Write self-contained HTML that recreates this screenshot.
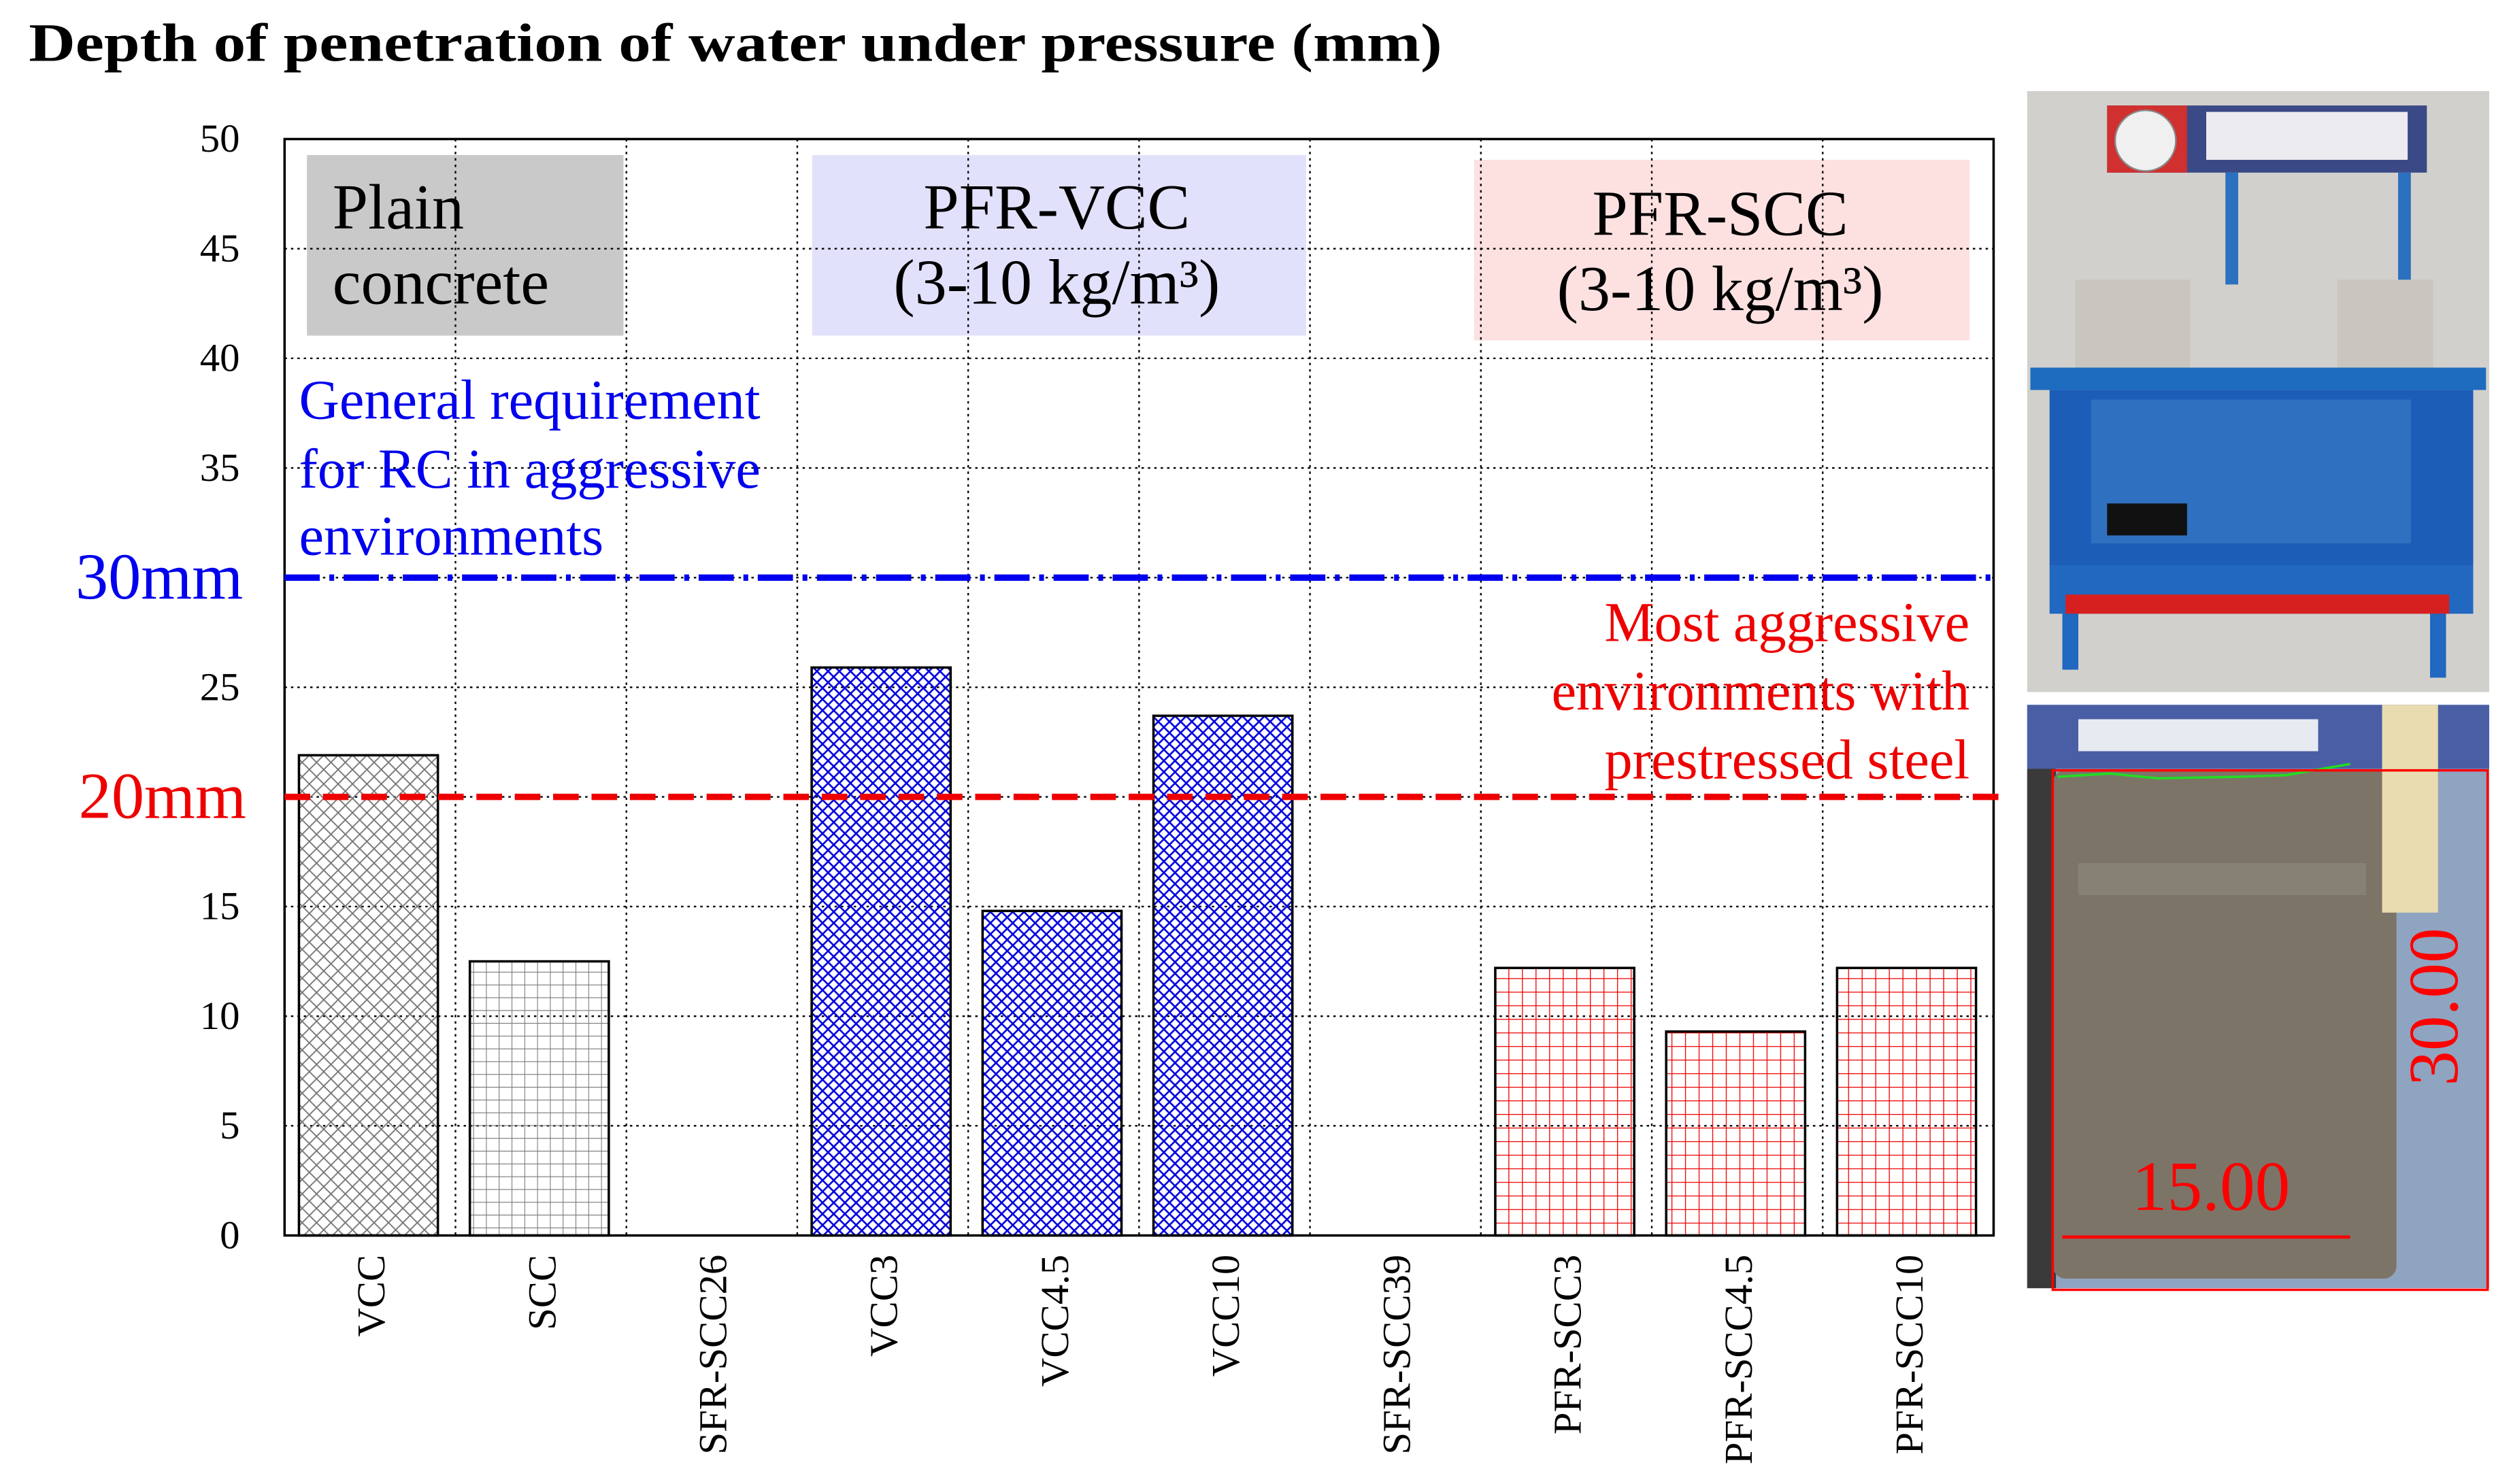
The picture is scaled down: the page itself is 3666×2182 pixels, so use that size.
<!DOCTYPE html>
<html><head><meta charset="utf-8"><style>
html,body{margin:0;padding:0;background:#fff;}
svg{display:block;}
text{font-family:"Liberation Serif",serif;}
</style></head><body>
<svg id="chart" width="3666" height="2182" viewBox="0 0 1560 928.5" xmlns="http://www.w3.org/2000/svg">
<defs>
<pattern id="pGrayX" width="9" height="9" patternUnits="userSpaceOnUse"><path d="M0 0L9 9M9 0L0 9" stroke="#777" stroke-width="0.8"/></pattern>
<pattern id="pGrayG" width="8" height="8" patternUnits="userSpaceOnUse"><path d="M0 0H8M0 0V8" stroke="#777" stroke-width="0.9"/></pattern>
<pattern id="pBlueX" width="7" height="7" patternUnits="userSpaceOnUse"><path d="M0 0L7 7M7 0L0 7" stroke="#0000dd" stroke-width="1.1"/></pattern>
<pattern id="pRedG" width="8.5" height="8.5" patternUnits="userSpaceOnUse"><path d="M0 0H8.5M0 0V8.5" stroke="#ee0000" stroke-width="1.1"/></pattern>
</defs>
<text x="18" y="38" font-size="34" font-weight="bold" textLength="884" lengthAdjust="spacingAndGlyphs">Depth of penetration of water under pressure (mm)</text>
<g id="boxes">
<rect x="192" y="97" width="198" height="113" fill="#c9c9c9"/>
<rect x="508" y="97" width="309" height="113" fill="#e1e1fb"/>
<rect x="922" y="100" width="310" height="113" fill="#fde1e1"/>
</g>
<g id="grid"></g>
<g id="bars"></g>
<rect x="178" y="87" width="1069" height="686" fill="none" stroke="#000" stroke-width="1.5"/>
<g id="yticks"></g>
<g id="xlabels"></g>
<text x="208" y="143" font-size="40">Plain</text>
<text x="208" y="190" font-size="40">concrete</text>
<text x="661" y="143" font-size="40" text-anchor="middle">PFR-VCC</text>
<text x="661" y="190" font-size="40" text-anchor="middle">(3-10 kg/m³)</text>
<text x="1076" y="147" font-size="40" text-anchor="middle">PFR-SCC</text>
<text x="1076" y="194" font-size="40" text-anchor="middle">(3-10 kg/m³)</text>
<g id="annotations" fill="#0000ee" font-size="35">
<text x="187" y="262">General requirement</text>
<text x="187" y="305">for RC in aggressive</text>
<text x="187" y="347">environments</text>
</g>
<g fill="#ee0000" font-size="35" text-anchor="end">
<text x="1232" y="401">Most aggressive</text>
<text x="1232" y="444">environments with</text>
<text x="1232" y="487">prestressed steel</text>
</g>
<g id="thresholds"></g>
<g id="photos">
<g>
<rect x="1268" y="57" width="289" height="376" fill="#d2d0cc"/>
<rect x="1318" y="66" width="200" height="42" fill="#3a4a86"/>
<rect x="1318" y="66" width="50" height="42" fill="#d03030"/>
<circle cx="1342" cy="88" r="19" fill="#f0f0f0" stroke="#888"/>
<rect x="1380" y="70" width="126" height="30" fill="#ecebef"/>
<rect x="1392" y="108" width="8" height="70" fill="#2c70c0"/>
<rect x="1500" y="108" width="8" height="70" fill="#2c70c0"/>
<rect x="1298" y="175" width="72" height="60" fill="#c8c6bf"/>
<rect x="1462" y="175" width="60" height="60" fill="#c8c6bf"/>
<rect x="1270" y="230" width="285" height="14" fill="#1e6cc0"/>
<rect x="1282" y="244" width="265" height="110" fill="#1c5db8"/>
<rect x="1308" y="250" width="200" height="90" fill="#3070c0"/>
<rect x="1318" y="315" width="50" height="20" fill="#111"/>
<rect x="1282" y="354" width="265" height="30" fill="#2068c0"/>
<rect x="1292" y="372" width="240" height="12" fill="#d62020"/>
<rect x="1290" y="384" width="10" height="35" fill="#2068c0"/>
<rect x="1520" y="384" width="10" height="40" fill="#2068c0"/>
</g>
<g>
<rect x="1268" y="441" width="289" height="365" fill="#8fa4c0"/>
<rect x="1268" y="441" width="289" height="40" fill="#4a5ea6"/>
<rect x="1300" y="450" width="150" height="20" fill="#e8eaf2"/>
<rect x="1268" y="481" width="18" height="325" fill="#3a3a3a"/>
<rect x="1284" y="482" width="215" height="318" rx="8" fill="#7d7468"/>
<rect x="1300" y="540" width="180" height="20" fill="#8a8478" opacity="0.8"/>
<rect x="1490" y="441" width="35" height="130" fill="#e8dcb0"/>
<polyline points="1287,486 1320,484 1350,487 1400,486 1430,485 1470,478" fill="none" stroke="#22dd22" stroke-width="1.5"/>
<rect x="1284" y="482" width="272" height="325" fill="none" stroke="#ff0000" stroke-width="1.5"/>
<line x1="1290" y1="774" x2="1470" y2="774" stroke="#ff0000" stroke-width="2"/>
<text x="1383" y="757" font-family="Liberation Sans,sans-serif" font-size="44" fill="#ff0000" text-anchor="middle">15.00</text>
<text transform="translate(1537,630) rotate(-90)" font-family="Liberation Sans,sans-serif" font-size="44" fill="#ff0000" text-anchor="middle">30.00</text>
</g>
</g>
</svg>
<script>
const categories=["VCC","SCC","SFR-SCC26","VCC3","VCC4.5","VCC10","SFR-SCC39","PFR-SCC3","PFR-SCC4.5","PFR-SCC10"];
const values=[21.9,12.5,0,25.9,14.8,23.7,0,12.2,9.3,12.2];
const fills=["pGrayX","pGrayG","","pBlueX","pBlueX","pBlueX","","pRedG","pRedG","pRedG"];
const yTicks=[0,5,10,15,20,25,30,35,40,45,50];
const thresholdValues=[30,20];
const NS="http://www.w3.org/2000/svg";
const L=178,R=1247,T=87,B=773,yMax=50;
const bw=(R-L)/categories.length;
function y(v){return B-(v/yMax)*(B-T);}
function x(i){return L+i*bw;}
function mk(tag,attrs,parent){const e=document.createElementNS(NS,tag);for(const k in attrs)e.setAttribute(k,attrs[k]);parent.appendChild(e);return e;}
const grid=document.getElementById('grid'),bars=document.getElementById('bars'),yt=document.getElementById('yticks'),xl=document.getElementById('xlabels'),th=document.getElementById('thresholds');
yTicks.forEach(t=>{
  if(t>0&&t<yMax){const g=mk('line',{x1:L,x2:R,y1:y(t),y2:y(t),stroke:'#000','stroke-width':1,'stroke-dasharray':'1.5 2.5'},grid);
  
  }
  if(t===30||t===20)return;
  const tx=mk('text',{x:150,y:y(t)+8,'font-size':25,'text-anchor':'end'},yt);tx.textContent=t;
  
  
});
for(let i=1;i<categories.length;i++){
  const g=mk('line',{x1:x(i),x2:x(i),y1:T,y2:B,stroke:'#000','stroke-width':1,'stroke-dasharray':'1.5 2.5'},grid);
  
  
}
categories.forEach((c,i)=>{
  if(values[i]>0){
    const r=mk('rect',{x:x(i)+9,y:y(values[i]),width:bw-20,height:B-y(values[i]),fill:'url(#'+fills[i]+')',stroke:'#000','stroke-width':1.5},bars);
    
    
  }
  const t=mk('text',{transform:'translate('+(x(i)+bw/2+9)+',785) rotate(-90)','font-size':25,'text-anchor':'end'},xl);
  t.textContent=c;
  
  
});
const l1=mk('line',{x1:L,x2:R,y1:y(thresholdValues[0]),y2:y(thresholdValues[0]),stroke:'#0000ee','stroke-width':4,'stroke-dasharray':'22 6 3 6'},th);


const l2=mk('line',{x1:L,x2:1256,y1:y(thresholdValues[1]),y2:y(thresholdValues[1]),stroke:'#ee0000','stroke-width':4,'stroke-dasharray':'16 8'},th);


const t1=mk('text',{x:152,y:y(thresholdValues[0])+13,'font-size':41,fill:'#0000ee','text-anchor':'end'},th);t1.textContent=thresholdValues[0]+'mm';


const t2=mk('text',{x:154,y:y(thresholdValues[1])+13,'font-size':41,fill:'#ee0000','text-anchor':'end'},th);t2.textContent=thresholdValues[1]+'mm';


</script>
</body></html>
